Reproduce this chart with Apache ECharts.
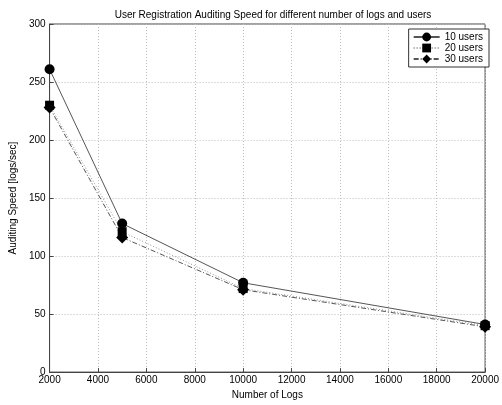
<!DOCTYPE html>
<html><head><meta charset="utf-8">
<script src="https://cdn.jsdelivr.net/npm/echarts@6/dist/echarts.min.js"></script>
<style>html,body{margin:0;padding:0;background:#fff}#c{width:502px;height:405px}</style>
</head><body><div id="c"></div>
<script>
var logs = [2000, 5000, 10000, 20000];
var users10 = [261, 128, 77, 41];
var users20 = [230, 121, 72, 40];
var users30 = [228, 116, 71, 39];
var seriesNames = ['10 users', '20 users', '30 users'];

function pairs(v){ return logs.map(function(x,i){ return [x, v[i]]; }); }
var font = 'Liberation Sans, Arial, sans-serif';
var chart = echarts.init(document.getElementById('c'));
chart.setOption({
  animation: false,
  backgroundColor: '#fff',
  title: {text: 'User Registration Auditing Speed for different number of logs and users', left: 268, top: 5, textAlign: 'center',
    textStyle: {fontSize: 10, fontWeight: 'normal', color: '#000', fontFamily: font}},
  grid: {left: 44, right: 9, top: 24, bottom: 28, show: true, borderColor: '#444', borderWidth: 1},
  legend: {
    orient: 'vertical', right: 13, top: 29, itemWidth: 26, itemHeight: 11, itemGap: 1,
    backgroundColor: '#fff', borderColor: '#333', borderWidth: 1, padding: [3, 6, 3, 4],
    textStyle: {fontSize: 10, color: '#000', fontFamily: font},
    data: seriesNames
  },
  xAxis: {type: 'value', min: 2000, max: 20000, interval: 2000,
    name: 'Number of Logs', nameLocation: 'middle', nameGap: 16,
    nameTextStyle: {fontSize: 10, color: '#000', fontFamily: font},
    axisLine: {show: true, onZero: false, lineStyle: {color: '#444'}},
    axisTick: {show: true, inside: true, length: 4, lineStyle: {color: '#444'}},
    axisLabel: {fontSize: 10, color: '#000', fontFamily: font, margin: 3, showMaxLabel: true,
      formatter: function(v){ return String(v); }},
    splitLine: {show: true, lineStyle: {color: '#bbb', type: [1, 2], width: 1}}
  },
  yAxis: {type: 'value', min: 0, max: 300, interval: 50,
    name: 'Auditing Speed [logs/sec]', nameLocation: 'middle', nameGap: 28,
    nameTextStyle: {fontSize: 10, color: '#000', fontFamily: font},
    axisLine: {show: true, lineStyle: {color: '#444'}},
    axisTick: {show: true, inside: true, length: 4, lineStyle: {color: '#444'}},
    axisLabel: {fontSize: 10, color: '#000', fontFamily: font, margin: 4},
    splitLine: {show: true, lineStyle: {color: '#bbb', type: [1, 2], width: 1}}
  },
  series: [
    {name: seriesNames[0], type: 'line', data: pairs(users10), symbol: 'circle', symbolSize: 10,
      itemStyle: {color: '#000'}, lineStyle: {color: '#555', width: 1, type: 'solid'}, z: 3},
    {name: seriesNames[1], type: 'line', data: pairs(users20), symbol: 'rect', symbolSize: 9,
      itemStyle: {color: '#000'}, lineStyle: {color: '#8a9a8a', width: 1, type: [1, 2]}, z: 2},
    {name: seriesNames[2], type: 'line', data: pairs(users30), symbol: 'diamond', symbolSize: 12,
      itemStyle: {color: '#000'}, lineStyle: {color: '#555', width: 1, type: [5, 2, 1, 2]}, z: 2}
  ]
});
</script></body></html>
